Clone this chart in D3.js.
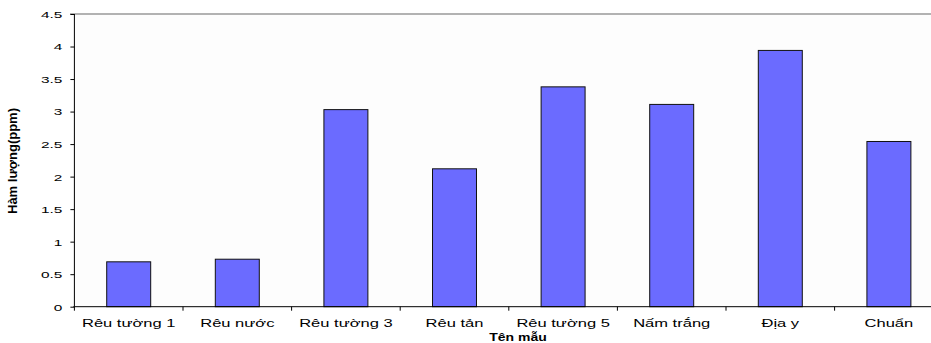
<!DOCTYPE html>
<html><head><meta charset="utf-8">
<script src="https://cdn.jsdelivr.net/npm/d3@7"></script>
<style>body{margin:0;background:#fff}svg{display:block}text{font-family:"Liberation Sans",Arial,sans-serif;fill:#000}</style>
</head><body><svg id="c" width="931" height="343"></svg>
<script>
const categories = ["Rêu tường 1","Rêu nước","Rêu tường 3","Rêu tản","Rêu tường 5","Nấm trắng","Địa y","Chuẩn"];
const values = [0.69,0.73,3.03,2.12,3.38,3.11,3.94,2.54];
const yTicks = [0,0.5,1,1.5,2,2.5,3,3.5,4,4.5];
const yTitle = "Hàm lượng(ppm)";
const xTitle = "Tên mẫu";

(function(){
const svg = d3.select("#c");
const pL = 74.4, pR = 943.2, pT = 14, pB = 306.7;
const x = d3.scaleBand().domain(categories).range([pL, pR]).paddingInner(0).paddingOuter(0);
const y = d3.scaleLinear().domain([0,4.5]).range([pB, pT]);
const stretch = 1.62;

svg.append("rect").attr("x",pL).attr("y",pT).attr("width",pR-pL).attr("height",pB-pT).attr("fill","#fdfdfd");
svg.append("line").attr("x1",70).attr("x2",pR).attr("y1",pT).attr("y2",pT).attr("stroke","#999").attr("stroke-width",1.5);

const bw = x.bandwidth()*0.405;
svg.append("g").selectAll("rect").data(values).join("rect")
  .attr("x",(d,i)=>x(categories[i])+x.bandwidth()/2-bw/2)
  .attr("y",d=>y(d)).attr("width",bw).attr("height",d=>pB-y(d))
  .attr("fill","#6b6bff").attr("stroke","#111").attr("stroke-width",1);

const ya = svg.append("g").attr("transform",`translate(${pL},0)`)
  .call(d3.axisLeft(y).tickValues(yTicks).tickSize(4).tickPadding(8).tickFormat(d3.format("")));
ya.select(".domain").attr("stroke","#000").attr("d",`M0,${pT}V${pB}`);
ya.selectAll(".tick line").attr("stroke","#000");
ya.selectAll(".tick text").attr("font-size","9.5px").attr("font-family","Liberation Sans, Arial, sans-serif").attr("dy","0.36em");

const xa = svg.append("g").attr("transform",`translate(0,${pB})`)
  .call(d3.axisBottom(x).tickSize(0).tickPadding(0));
xa.select(".domain").attr("stroke","#000").attr("d",`M${pL-1},0H${pR}`);
xa.selectAll(".tick text").attr("font-size","10.2px").attr("font-family","Liberation Sans, Arial, sans-serif").attr("y",20).attr("dy",0);
const bounds = categories.map(c=>x(c)).concat([pR]);
xa.append("g").selectAll("line").data(bounds).join("line")
  .attr("x1",d=>d).attr("x2",d=>d).attr("y1",0).attr("y2",4).attr("stroke","#000");

svg.selectAll(".tick text").each(function(){
  const len = this.getComputedTextLength();
  d3.select(this).attr("textLength",len*stretch).attr("lengthAdjust","spacingAndGlyphs");
});

const xt = svg.append("text").attr("x",518).attr("y",341).attr("text-anchor","middle")
  .attr("font-size","11px").attr("font-weight","bold").text(xTitle);
xt.attr("textLength",xt.node().getComputedTextLength()*1.27).attr("lengthAdjust","spacingAndGlyphs");

svg.append("text").attr("transform",`translate(17,161) rotate(-90)`).attr("text-anchor","middle")
  .attr("font-size","12.5px").attr("font-weight","bold")
  .attr("textLength",106).attr("lengthAdjust","spacingAndGlyphs").text(yTitle);
})();
</script></body></html>
